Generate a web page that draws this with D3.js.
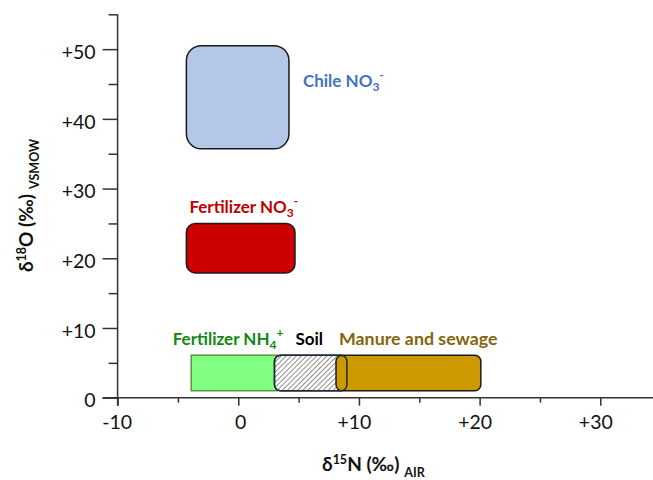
<!DOCTYPE html>
<html>
<head>
<meta charset="utf-8">
<script src="https://cdn.jsdelivr.net/npm/d3@7"></script>
<style>
  html, body { margin: 0; padding: 0; background: #fff; }
  svg { display: block; }
  text { font-family: Lato, "Open Sans", sans-serif; }
</style>
</head>
<body>
<script>
// Isotope ranges of nitrate sources (δ15N vs δ18O)
const sourceNames = ["Chile NO3-", "Fertilizer NO3-", "Fertilizer NH4+", "Soil", "Manure and sewage"];
const n15Min = [-4.3, -4.3, -3.9, 3.0, 8.1];
const n15Max = [4.2, 4.7, 3.2, 9.0, 20.1];
const o18Min = [35.7, 17.9, 1.0, 1.0, 1.0];
const o18Max = [50.5, 25.0, 6.1, 6.1, 6.1];

const xTickValues = [-10, 0, 10, 20, 30];
const xTickLabels = ["-10", "0", "+10", "+20", "+30"];
const xMinorTicks = [-5, 5, 15, 25];
const yTickValues = [0, 10, 20, 30, 40, 50];
const yTickLabels = ["0", "+10", "+20", "+30", "+40", "+50"];
const yMinorTicks = [5, 15, 25, 35, 45, 55];

const W = 653, H = 480;
const svg = d3.select("body").append("svg").attr("width", W).attr("height", H);

const x = d3.scaleLinear().domain([-10, 34.45]).range([117.6, 654]);
const y = d3.scaleLinear().domain([0, 55]).range([397.7, 14.3]);

const axisColor = "#333";

// hatch pattern for soil
const defs = svg.append("defs");
const pat = defs.append("pattern")
  .attr("id", "hatch").attr("patternUnits", "userSpaceOnUse")
  .attr("width", 3.6).attr("height", 3.6)
  .attr("patternTransform", "rotate(45)");
pat.append("rect").attr("width", 3.6).attr("height", 3.6).attr("fill", "#fff");
pat.append("line").attr("x1", 0).attr("y1", 0).attr("x2", 0).attr("y2", 3.6)
  .attr("stroke", "#3a3a3a").attr("stroke-width", 1.1);

// --- axes ---
const xAxis = d3.axisBottom(x).tickValues(xTickValues)
  .tickFormat((d, i) => xTickLabels[i]).tickSize(8).tickSizeOuter(0);
const gx = svg.append("g").attr("transform", `translate(0,${y(0)})`).call(xAxis);
gx.select(".domain").attr("d", `M${x(-10) - 15},0H${W}`);
gx.selectAll(".tick text").attr("dy", null).attr("y", 31)
  .attr("dx", (d, i) => xTickLabels[i].startsWith("+") ? -5 : (d === 0 ? 2 : -1))
  .style("font-size", "19.5px").attr("fill", "#111");

const xMinor = d3.axisBottom(x).tickValues(xMinorTicks).tickFormat("").tickSize(5).tickSizeOuter(0);
const gxm = svg.append("g").attr("transform", `translate(0,${y(0)})`).call(xMinor);
gxm.select(".domain").remove();

const yAxis = d3.axisLeft(y).tickValues(yTickValues)
  .tickFormat((d, i) => yTickLabels[i]).tickSize(15).tickSizeOuter(0);
const gy = svg.append("g").attr("transform", `translate(${x(-10)},0)`).call(yAxis);
gy.select(".domain").attr("d", `M0,${y(55)}V${y(0) + 8}`);
gy.selectAll(".tick text").attr("x", -22).attr("dy", "0.47em")
  .style("font-size", "19.5px").attr("fill", "#111");

const yMinor = d3.axisLeft(y).tickValues(yMinorTicks).tickFormat("").tickSize(9).tickSizeOuter(0);
const gym = svg.append("g").attr("transform", `translate(${x(-10)},0)`).call(yMinor);
gym.select(".domain").remove();

svg.selectAll(".domain, .tick line").attr("stroke", axisColor).attr("stroke-width", 1.5);
svg.selectAll(".tick text").attr("font-family", "Lato, 'Open Sans', sans-serif");

// --- source boxes ---
function box(i, fill, stroke, r, sw) {
  return svg.append("rect")
    .attr("x", x(n15Min[i])).attr("y", y(o18Max[i]))
    .attr("width", x(n15Max[i]) - x(n15Min[i]))
    .attr("height", y(o18Min[i]) - y(o18Max[i]))
    .attr("rx", r).attr("ry", r)
    .attr("fill", fill).attr("stroke", stroke).attr("stroke-width", sw);
}
box(0, "#b4c7e7", "#1a1a1a", 15, 1.5);
box(1, "#cc0000", "#1a1a1a", 9, 1.5);
box(2, "#80ff80", "#5e8f45", 0, 1.5);
box(3, "url(#hatch)", "#1c2a3a", 6, 1.5);
box(4, "#cc9900", "#1a1a1a", 6, 1.5);
box(3, "none", "#1c2a3a", 6, 1.5);

// --- labels ---
function label(text, sub, sup, px, py, color, anchor, size) {
  const t = svg.append("text").attr("x", px).attr("y", py)
    .attr("fill", color).attr("font-weight", "bold")
    .style("font-size", (size || 17) + "px").attr("text-anchor", anchor || "start");
  t.append("tspan").text(text);
  if (sub) t.append("tspan").attr("dy", 4).style("font-size", "12px").text(sub);
  if (sup) t.append("tspan").attr("dy", sub ? -12 : -7).style("font-size", "12px").text(sup);
  return t;
}
label("Chile NO", "3", "-", x(n15Max[0]) + 14, 87, "#4472c4");
label("Fertilizer NO", "3", "-", x(n15Min[1]) + 3, y(o18Max[1]) - 10.5, "#c00000");
label("Fertilizer NH", "4", "+", x(n15Min[2]) - 18.5, y(o18Max[2]) - 10, "#118811");
label("Soil", null, null, (x(n15Min[3]) + x(n15Max[3])) / 2 - 1.5, y(o18Max[3]) - 10, "#000", "middle");
label("Manure and sewage", null, null, x(n15Min[4]) + 3, y(o18Max[4]) - 10, "#85650c", "start", 17.8);

// --- axis titles ---
const xt = svg.append("text").attr("x", 322).attr("y", 471)
  .attr("font-weight", "bold").style("font-size", "19px").attr("fill", "#111");
xt.append("tspan").text("δ");
xt.append("tspan").attr("dy", -7.5).style("font-size", "12.5px").text("15");
xt.append("tspan").attr("dy", 7.5).text("N (‰)");
xt.append("tspan").attr("dy", 6).attr("dx", 5).style("font-size", "12.5px").text("AIR");

const yt = svg.append("text")
  .attr("transform", "translate(33,272) rotate(-90)")
  .attr("font-weight", "bold").style("font-size", "19px").attr("fill", "#111");
yt.append("tspan").text("δ");
yt.append("tspan").attr("dy", -7.5).style("font-size", "12.5px").text("18");
yt.append("tspan").attr("dy", 7.5).text("O (‰)");
yt.append("tspan").attr("dy", 6).attr("dx", 5).style("font-size", "12.5px").text("VSMOW");
</script>
</body>
</html>
